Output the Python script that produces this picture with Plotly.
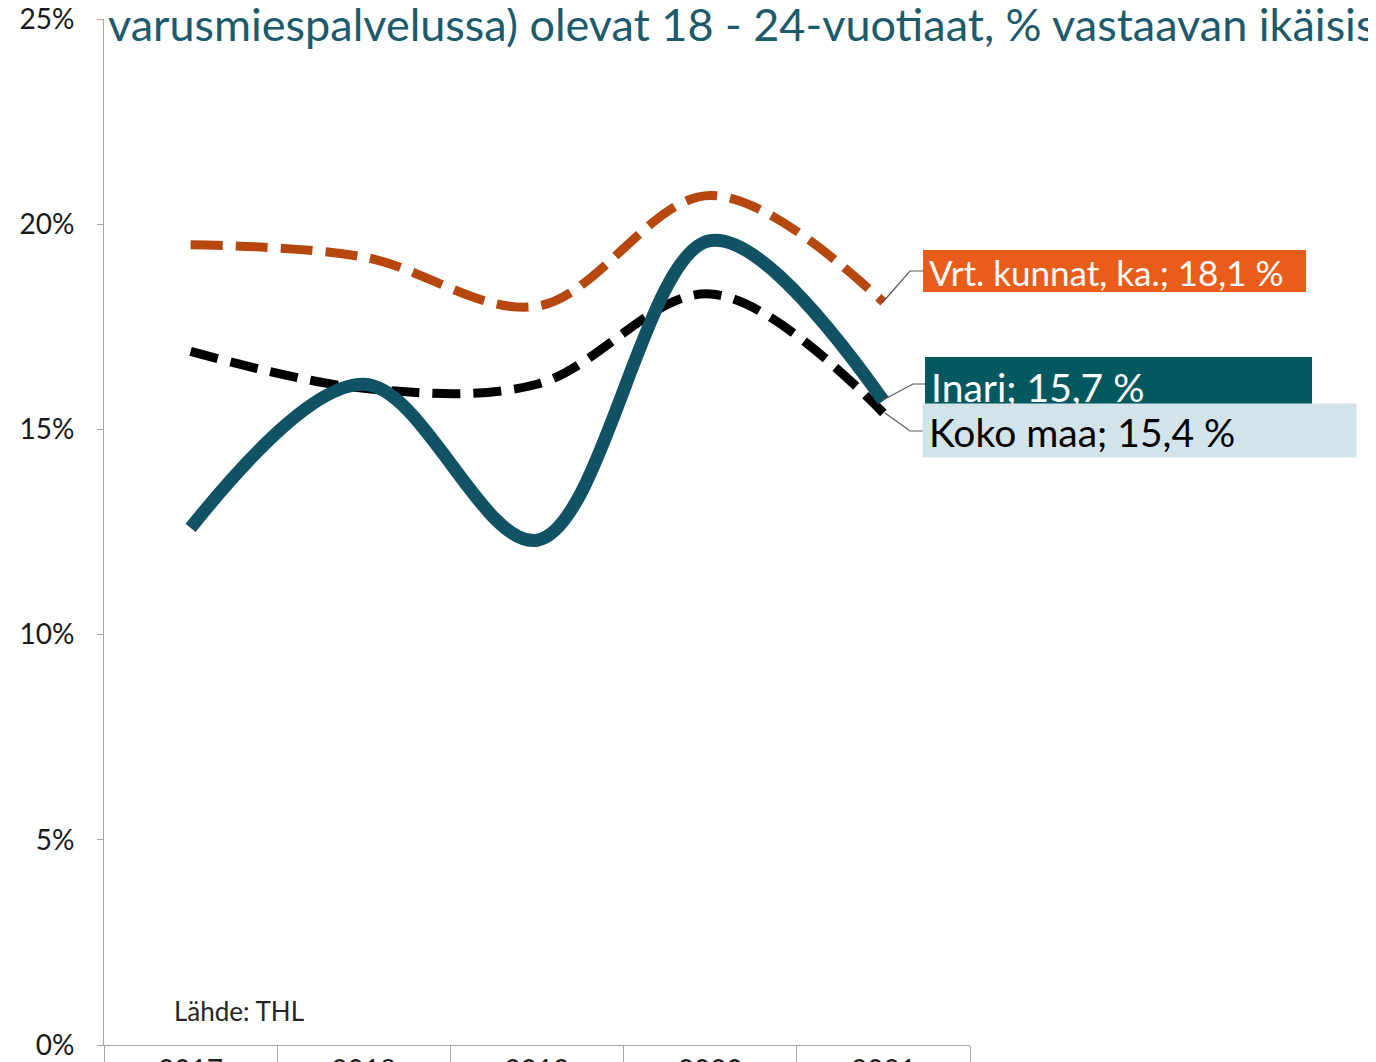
import plotly.graph_objects as go

years = ["2017", "2018", "2019", "2020", "2021"]
inari = [0.126, 0.161, 0.123, 0.196, 0.157]
koko_maa = [0.169, 0.160, 0.161, 0.183, 0.154]
vrt_kunnat = [0.195, 0.192, 0.180, 0.207, 0.181]

title_text = "varusmiespalvelussa) olevat 18 - 24-vuotiaat, % vastaavan ikäisistä"
source_text = "Lähde: THL"
label_vrt = "Vrt. kunnat, ka.; 18,1 %"
label_inari = "Inari; 15,7 %"
label_koko = "Koko maa; 15,4 %"

FONT = "Lato, 'Open Sans', sans-serif"
OFF = 8  # page offset of the figure in the browser
W, H = 1376 - OFF, 1062 - OFF
L, R, T, B = 104, 970, 19, 1045  # plot area in page pixels


def px(x):
    return (x - L) / (R - L)


def py(y):
    return (B - y) / (B - T)


fig = go.Figure()
fig.add_trace(go.Scatter(x=years, y=vrt_kunnat, mode="lines",
                         line=dict(color="#B5470F", width=9, dash="32px,13px", shape="spline", smoothing=1),
                         name="Vrt. kunnat, ka.", hoverinfo="skip"))
fig.add_trace(go.Scatter(x=years, y=koko_maa, mode="lines",
                         line=dict(color="#000000", width=9, dash="28px,13px", shape="spline", smoothing=1),
                         name="Koko maa", hoverinfo="skip"))
fig.add_trace(go.Scatter(x=years, y=inari, mode="lines",
                         line=dict(color="#115264", width=13, shape="spline", smoothing=1),
                         name="Inari", hoverinfo="skip"))

shapes = [
    dict(type="rect", xref="paper", yref="paper", x0=px(923), x1=px(1306), y0=py(292), y1=py(250),
         fillcolor="#EA5C1A", line=dict(width=0), layer="above"),
    dict(type="rect", xref="paper", yref="paper", x0=px(925), x1=px(1312), y0=py(412), y1=py(357),
         fillcolor="#03595F", line=dict(width=0), layer="above"),
]
leaders = [
    [(882, 303), (910, 271), (923, 271)],
    [(883, 400), (913, 384), (925, 384)],
    [(885, 413), (910, 431), (923, 431)],
]
for pts in leaders:
    path = "M {} {}".format(px(pts[0][0]), py(pts[0][1]))
    for (x, y) in pts[1:]:
        path += " L {} {}".format(px(x), py(y))
    shapes.append(dict(type="path", xref="paper", yref="paper", path=path,
                       line=dict(color="#595959", width=1.2), layer="above"))

annotations = [
    dict(text=title_text, xref="paper", yref="paper", x=px(106), y=py(24), xanchor="left", yanchor="middle",
         showarrow=False, font=dict(family=FONT, size=45, color="#1D5A6B")),
    dict(text=source_text, xref="paper", yref="paper", x=px(172), y=py(1011), xanchor="left", yanchor="middle",
         showarrow=False, font=dict(family=FONT, size=26, color="#262626")),
    dict(text=label_vrt, xref="paper", yref="paper", x=px(927), y=py(272), xanchor="left", yanchor="middle",
         showarrow=False, font=dict(family=FONT, size=35, color="#FFFFFF")),
    dict(text=label_inari, xref="paper", yref="paper", x=px(929), y=py(387), xanchor="left", yanchor="middle",
         showarrow=False, font=dict(family=FONT, size=39, color="#FFFFFF")),
    dict(text=" ", xref="paper", yref="paper", x=px(922), y=py(403), xanchor="left", yanchor="top",
         showarrow=False, width=433, height=53, borderpad=0, bgcolor="#D3E3EA", font=dict(size=2)),
    dict(text=label_koko, xref="paper", yref="paper", x=px(927), y=py(432), xanchor="left", yanchor="middle",
         showarrow=False, font=dict(family=FONT, size=39, color="#000000")),
]

fig.update_layout(
    width=W, height=H,
    margin=dict(l=L - OFF, r=W - (R - OFF), t=T - OFF, b=H - (B - OFF), pad=0),
    paper_bgcolor="#FFFFFF", plot_bgcolor="#FFFFFF",
    showlegend=False,
    shapes=shapes,
    annotations=annotations,
    font=dict(family=FONT, color="#1a1a1a"),
)
fig.update_xaxes(type="category", range=[-0.5, 4.5], tickson="boundaries", ticks="outside", ticklen=22,
                 tickcolor="#A6A6A6", showline=True, linecolor="#A6A6A6", linewidth=1, showgrid=False,
                 zeroline=False, tickfont=dict(family=FONT, size=28, color="#1a1a1a"),
                 ticklabelstandoff=0, ticklabeloverflow="allow", automargin=False)
fig.update_yaxes(range=[0, 0.25], dtick=0.05, tick0=0, tickformat=".0%", ticks="outside", ticklen=6,
                 tickcolor="#A6A6A6", showline=True, linecolor="#A6A6A6", linewidth=1, showgrid=False,
                 zeroline=False, tickfont=dict(family=FONT, size=28, color="#1a1a1a"),
                 ticklabelstandoff=17, ticklabeloverflow="allow", automargin=False)

fig.write_html("out.html")
